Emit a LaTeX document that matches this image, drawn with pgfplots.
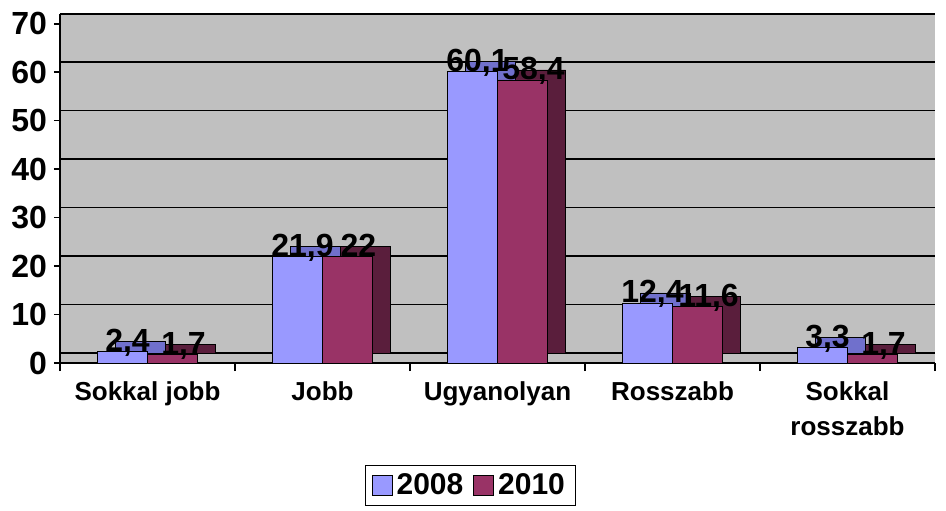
\documentclass[border=0pt]{standalone}
\usepackage{fontspec}
\setmainfont{Liberation Sans}
\usepackage{pgfplots}
\pgfplotsset{compat=1.18}
\definecolor{c08}{HTML}{9999FF}
\definecolor{c10}{HTML}{993366}
\definecolor{c08d}{HTML}{7070CC}
\definecolor{c10d}{HTML}{5A1E3C}
\definecolor{wall}{HTML}{C0C0C0}
\begin{document}
\begin{tikzpicture}
\begin{axis}[
 scale only axis, width=437.5pt, height=174.5pt,
 ybar, bar width=25pt,
 xmin=-0.5, xmax=4.5, ymin=0, ymax=72,
 ytick={0,10,...,70},
 xtick={0,...,4},
 xticklabels={Sokkal jobb, Jobb, Ugyanolyan, Rosszabb, {Sokkal\\rosszabb}},
 minor xtick={-0.5,0.5,...,4.5},
 major x tick style={draw=none},
 minor tick length=4pt, major tick length=3pt,
 tick align=outside,
 tick style={black, line width=0.8pt},
 xticklabel style={align=center, font=\bfseries\fontsize{13}{17.5}\selectfont, yshift=-3pt},
 yticklabel style={font=\bfseries\fontsize{16}{17}\selectfont},
 /pgf/number format/assume math mode=true,
 axis background/.style={fill=wall},
 ymajorgrids, grid style={black, line width=0.8pt, yshift=5pt},
 axis x line*=bottom, axis y line*=left,
 axis line style={black, line width=0.8pt, -},
 clip=false,
 legend style={at={(0.469,-0.35)}, anchor=center, legend columns=2, draw=black,
   font=\bfseries\fontsize{15}{16}\selectfont,
   /tikz/every even column/.append style={column sep=3pt}},
 legend image code/.code={\draw[#1, draw=black] (0pt,-5pt) rectangle (10pt,5pt);},
 every node near coord/.append style={font=\bfseries\fontsize{16}{17}\selectfont, anchor=base, inner sep=1pt, text=black},
]
\addplot[fill=c08d, draw=black, bar shift=-3.5pt, yshift=5pt, forget plot] coordinates {(0,2.4) (1,21.9) (2,60.1) (3,12.4) (4,3.3)};
\addplot[fill=c08, draw=black, bar shift=-12.5pt,
  every node near coord/.append style={xshift=2.5pt},
  nodes near coords={\pgfmathprintnumber[use comma,fixed,precision=1,assume math mode=true]{\pgfplotspointmeta}}]
  coordinates {(0,2.4) (1,21.9) (2,60.1) (3,12.4) (4,3.3)};
\addlegendentry{2008}
\addplot[fill=c10d, draw=black, bar shift=21.5pt, yshift=5pt, forget plot] coordinates {(0,1.7) (1,22) (2,58.4) (3,11.6) (4,1.7)};
\addplot[fill=c10, draw=black, bar shift=12.5pt,
  every node near coord/.append style={xshift=5.5pt},
  nodes near coords={\pgfmathprintnumber[use comma,fixed,precision=1,assume math mode=true]{\pgfplotspointmeta}}]
  coordinates {(0,1.7) (1,22) (2,58.4) (3,11.6) (4,1.7)};
\addlegendentry{2010}
\end{axis}
\path (current axis.south west) ++(-30pt,-73.5pt) coordinate (bbA);
\path (current axis.south west) ++(443pt,181.5pt) coordinate (bbB);
\path (bbA) (bbB);
\end{tikzpicture}
\end{document}
